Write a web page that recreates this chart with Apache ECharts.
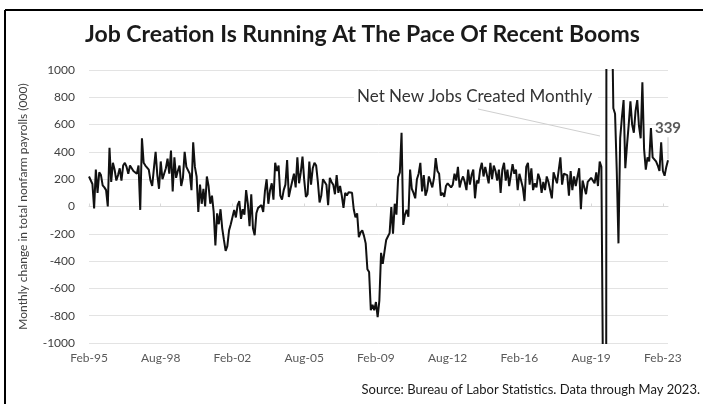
<!DOCTYPE html>
<html>
<head>
<meta charset="utf-8">
<script src="https://cdn.jsdelivr.net/npm/echarts@6/dist/echarts.min.js"></script>
<style>
html,body{margin:0;padding:0;background:#fff;}
#chart{width:703px;height:404px;}
</style>
</head>
<body>
<div id="chart"></div>
<script>
// Monthly change in total nonfarm payrolls (thousands), Feb 1995 – May 2023
var startYear = 1995, startMonth = 1; // Feb
var v1995 = [220, 215, 165, -15, 270, 100, 250, 230, 155, 140, 120];
var v1996 = [0, 430, 180, 320, 270, 190, 230, 280, 190, 300, 320, 290];
var v1997 = [240, 300, 290, 260, 260, 240, 300, -25, 500, 320, 300, 290];
var v1998 = [270, 190, 150, 280, 400, 230, 130, 330, 200, 200, 280, 350];
var v1999 = [240, 410, 110, 360, 210, 260, 300, 150, 210, 400, 290, 300];
var v2000 = [240, 120, 470, 290, 220, -40, 160, 20, 130, 0, 220, 150];
var v2001 = [20, 80, -40, -285, -50, -130, -20, -160, -245, -325, -290, -175];
var v2002 = [-130, -140, -25, -80, 10, 40, -90, -20, -60, 120, 20, -145];
var v2003 = [90, -160, -210, -50, -10, 0, 10, -40, 110, 200, 20, 120];
var v2004 = [170, 50, 320, 260, 300, 80, 50, 120, 160, 340, 70, 130];
var v2005 = [140, 240, 140, 360, 170, 250, 365, 195, 70, 90, 330, 160];
var v2006 = [280, 320, 300, 180, 30, 80, 200, 190, 160, 10, 210, 180];
var v2007 = [160, 90, 230, 100, 150, 80, -10, 100, 80, 105, 110, 100];
var v2008 = [-20, -80, -50, -225, -190, -175, -215, -270, -460, -480, -760, -720];
var v2009 = [-760, -700, -810, -690, -340, -420, -330, -245, -220, -195, -5, -200];
var v2010 = [20, -60, 215, 250, 540, -135, -60, -25, -75, 270, 130, 100];
var v2011 = [60, 200, 240, 320, 110, 230, 80, 120, 220, 180, 140, 210];
var v2012 = [355, 260, 240, 80, 100, 70, 150, 170, 180, 140, 160, 240];
var v2013 = [190, 290, 140, 190, 220, 180, 120, 270, 160, 230, 270, 60];
var v2014 = [190, 170, 270, 320, 220, 290, 230, 170, 320, 200, 300, 260];
var v2015 = [190, 270, 100, 270, 320, 190, 270, 150, 150, 310, 240, 270];
var v2016 = [120, 240, 240, 140, 40, 290, 320, 160, 280, 120, 170, 140];
var v2017 = [240, 200, 100, 180, 120, 220, 180, 170, 60, 250, 210, 170];
var v2018 = [180, 360, 160, 240, 250, 230, 80, 260, 120, 220, 150, 220];
var v2019 = [280, -20, 190, 200, 90, 180, 190, 210, 190, 170, 250, 150];
var v2020 = [330, 290, -1380, -20490, 2830, 4850, 1730, 1580, 720, 680, 260, -270];
var v2021 = [500, 650, 780, 280, 450, 600, 770, 600, 540, 700, 780, 590];
var v2022 = [500, 910, 420, 270, 360, 330, 575, 360, 350, 330, 300, 260];
var v2023 = [470, 260, 225, 290, 339];

var yearly = [v1995, v1996, v1997, v1998, v1999, v2000, v2001, v2002, v2003, v2004,
  v2005, v2006, v2007, v2008, v2009, v2010, v2011, v2012, v2013, v2014, v2015,
  v2016, v2017, v2018, v2019, v2020, v2021, v2022, v2023];

var monthNames = ['Jan','Feb','Mar','Apr','May','Jun','Jul','Aug','Sep','Oct','Nov','Dec'];
var categories = [];
var values = [];
yearly.forEach(function (arr, yi) {
  var y = startYear + yi;
  var m0 = (yi === 0) ? startMonth : 0;
  arr.forEach(function (v, k) {
    var m = m0 + k;
    categories.push(monthNames[m] + '-' + String(y).slice(2));
    values.push(v);
  });
});

var yTicks = [-1000, -800, -600, -400, -200, 0, 200, 400, 600, 800, 1000];
var titleText = 'Job Creation Is Running At The Pace Of Recent Booms';
var yName = 'Monthly change in total nonfarm payrolls (000)';
var noteText = 'Net New Jobs Created Monthly';
var sourceText = 'Source: Bureau of Labor Statistics. Data through May 2023.';

var lastIdx = values.length - 1;
var FONT = 'Lato, "Open Sans", sans-serif';

var chart = echarts.init(document.getElementById('chart'), null, {renderer: 'canvas'});
chart.setOption({
  animation: false,
  backgroundColor: '#ffffff',
  title: {
    text: titleText,
    left: 80,
    top: 18,
    textStyle: {fontFamily: FONT, fontWeight: 'bold', fontSize: 23, color: '#1a1a1a'}
  },
  grid: {left: 89, right: 35, top: 70, bottom: 61, containLabel: false},
  xAxis: {
    type: 'category',
    data: categories,
    boundaryGap: false,
    axisLine: {show: true, lineStyle: {color: '#d9d9d9', width: 1}},
    axisTick: {show: true, interval: 41, length: 3, inside: true, lineStyle: {color: '#d9d9d9'}},
    axisLabel: {interval: 41, color: '#595959', fontFamily: FONT, fontSize: 12, margin: 9},
    splitLine: {show: false}
  },
  yAxis: {
    type: 'value',
    min: yTicks[0],
    max: yTicks[yTicks.length - 1],
    interval: 200,
    name: yName,
    nameLocation: 'middle',
    nameGap: 60,
    nameTextStyle: {fontFamily: FONT, fontSize: 12, color: '#404040'},
    axisLine: {show: false},
    axisTick: {show: false},
    axisLabel: {
      color: '#404040', fontFamily: FONT, fontSize: 12, margin: 14,
      formatter: function (v) { return String(v); }
    },
    splitLine: {show: true, lineStyle: {color: '#e3e3e3', width: 1}}
  },
  series: [{
    type: 'line',
    data: values,
    showSymbol: false,
    symbol: 'none',
    clip: true,
    lineStyle: {color: '#111111', width: 2},
    markPoint: {
      silent: true,
      data: [{
        coord: [lastIdx, values[lastIdx]],
        symbol: 'rect',
        symbolSize: [1, 22],
        symbolOffset: [0, -12],
        itemStyle: {color: '#c8c8c8'},
        label: {
          show: true,
          position: 'top',
          distance: 2,
          formatter: String(values[lastIdx]),
          fontFamily: FONT,
          fontWeight: 'bold',
          fontSize: 15,
          color: '#595959'
        }
      }]
    }
  }],
  graphic: [
    {type: 'line', shape: {x1: 5, y1: 10, x2: 703, y2: 10}, style: {stroke: '#000', lineWidth: 2}},
    {type: 'line', shape: {x1: 5, y1: 10, x2: 5, y2: 404}, style: {stroke: '#000', lineWidth: 2}},
    {type: 'line', z: 10, shape: {x1: 478, y1: 109, x2: 600, y2: 136}, style: {stroke: '#cfcfcf', lineWidth: 1}},
    {type: 'rect', z: 11, shape: {x: 354, y: 87, width: 244, height: 21}, style: {fill: '#ffffff'}},
    {type: 'text', z: 12, left: 357, top: 88, style: {text: noteText, fontFamily: FONT, fontSize: 17, fill: '#333333'}},
    {type: 'text', right: 3, top: 383, style: {text: sourceText, fontFamily: FONT, fontSize: 13, fill: '#1a1a1a'}}
  ]
});
</script>
</body>
</html>
